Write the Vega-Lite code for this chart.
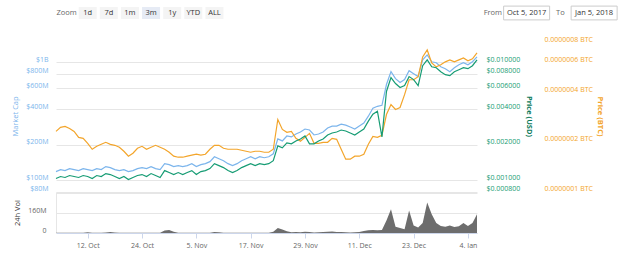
{
  "$schema": "https://vega.github.io/schema/vega-lite/v6.json",
  "background": "white",
  "padding": {"left": 11, "top": 0, "right": 0, "bottom": 0},
  "config": {
    "font": "Open Sans",
    "view": {"stroke": null},
    "axis": {"labelFont": "Open Sans", "titleFont": "Open Sans", "labelFontSize": 7, "titleFontSize": 7.5, "titleFontWeight": "normal", "domain": false, "ticks": false}
  },
  "datasets": {
    "zoom": [{"label": "Zoom"}, {"label": "1d"}, {"label": "7d"}, {"label": "1m"}, {"label": "3m"}, {"label": "1y"}, {"label": "YTD"}, {"label": "ALL"}],
    "range": [{"label": "From"}, {"label": "Oct 5, 2017"}, {"label": "To"}, {"label": "Jan 5, 2018"}],
    "d": [
      {"date": "2017/10/05", "mcap": 1.189e8, "usd": 0.001039, "btc": 2.308e-7, "vol": 2e6},
      {"date": "2017/10/06", "mcap": 1.236e8, "usd": 0.001080, "btc": 2.440e-7, "vol": 3e6},
      {"date": "2017/10/07", "mcap": 1.212e8, "usd": 0.001060, "btc": 2.474e-7, "vol": 2e6},
      {"date": "2017/10/08", "mcap": 1.260e8, "usd": 0.001101, "btc": 2.406e-7, "vol": 3e6},
      {"date": "2017/10/09", "mcap": 1.236e8, "usd": 0.001080, "btc": 2.308e-7, "vol": 2e6},
      {"date": "2017/10/10", "mcap": 1.212e8, "usd": 0.001060, "btc": 2.124e-7, "vol": 2e6},
      {"date": "2017/10/11", "mcap": 1.260e8, "usd": 0.001101, "btc": 2.095e-7, "vol": 3e6},
      {"date": "2017/10/12", "mcap": 1.236e8, "usd": 0.001080, "btc": 1.954e-7, "vol": 6e6},
      {"date": "2017/10/13", "mcap": 1.212e8, "usd": 0.001039, "btc": 1.798e-7, "vol": 3e6},
      {"date": "2017/10/14", "mcap": 1.260e8, "usd": 0.001101, "btc": 1.874e-7, "vol": 2e6},
      {"date": "2017/10/15", "mcap": 1.236e8, "usd": 0.001080, "btc": 1.927e-7, "vol": 3e6},
      {"date": "2017/10/16", "mcap": 1.310e8, "usd": 0.001144, "btc": 1.982e-7, "vol": 5e6},
      {"date": "2017/10/17", "mcap": 1.285e8, "usd": 0.001122, "btc": 1.927e-7, "vol": 8e6},
      {"date": "2017/10/18", "mcap": 1.236e8, "usd": 0.001080, "btc": 1.900e-7, "vol": 4e6},
      {"date": "2017/10/19", "mcap": 1.212e8, "usd": 0.001039, "btc": 1.848e-7, "vol": 3e6},
      {"date": "2017/10/20", "mcap": 1.236e8, "usd": 0.001080, "btc": 1.749e-7, "vol": 2e6},
      {"date": "2017/10/21", "mcap": 1.189e8, "usd": 0.001019, "btc": 1.632e-7, "vol": 3e6},
      {"date": "2017/10/22", "mcap": 1.212e8, "usd": 0.001060, "btc": 1.701e-7, "vol": 2e6},
      {"date": "2017/10/23", "mcap": 1.260e8, "usd": 0.001101, "btc": 1.823e-7, "vol": 3e6},
      {"date": "2017/10/24", "mcap": 1.285e8, "usd": 0.001122, "btc": 1.874e-7, "vol": 2e6},
      {"date": "2017/10/25", "mcap": 1.260e8, "usd": 0.001080, "btc": 1.798e-7, "vol": 2e6},
      {"date": "2017/10/26", "mcap": 1.310e8, "usd": 0.001144, "btc": 1.848e-7, "vol": 3e6},
      {"date": "2017/10/27", "mcap": 1.260e8, "usd": 0.001101, "btc": 1.900e-7, "vol": 3e6},
      {"date": "2017/10/28", "mcap": 1.236e8, "usd": 0.001060, "btc": 1.848e-7, "vol": 2e6},
      {"date": "2017/10/29", "mcap": 1.387e8, "usd": 0.001212, "btc": 1.798e-7, "vol": 2e7},
      {"date": "2017/10/30", "mcap": 1.361e8, "usd": 0.001167, "btc": 1.725e-7, "vol": 2.4e7},
      {"date": "2017/10/31", "mcap": 1.310e8, "usd": 0.001122, "btc": 1.632e-7, "vol": 1e7},
      {"date": "2017/11/01", "mcap": 1.335e8, "usd": 0.001167, "btc": 1.609e-7, "vol": 3e6},
      {"date": "2017/11/02", "mcap": 1.310e8, "usd": 0.001122, "btc": 1.609e-7, "vol": 3e6},
      {"date": "2017/11/03", "mcap": 1.335e8, "usd": 0.001167, "btc": 1.632e-7, "vol": 2e6},
      {"date": "2017/11/04", "mcap": 1.387e8, "usd": 0.001212, "btc": 1.655e-7, "vol": 3e6},
      {"date": "2017/11/05", "mcap": 1.310e8, "usd": 0.001122, "btc": 1.678e-7, "vol": 2e6},
      {"date": "2017/11/06", "mcap": 1.361e8, "usd": 0.001189, "btc": 1.655e-7, "vol": 2e6},
      {"date": "2017/11/07", "mcap": 1.387e8, "usd": 0.001212, "btc": 1.678e-7, "vol": 3e6},
      {"date": "2017/11/08", "mcap": 1.442e8, "usd": 0.001260, "btc": 1.798e-7, "vol": 3e6},
      {"date": "2017/11/09", "mcap": 1.587e8, "usd": 0.001387, "btc": 1.900e-7, "vol": 8e6},
      {"date": "2017/11/10", "mcap": 1.527e8, "usd": 0.001335, "btc": 1.900e-7, "vol": 6e6},
      {"date": "2017/11/11", "mcap": 1.470e8, "usd": 0.001285, "btc": 1.823e-7, "vol": 3e6},
      {"date": "2017/11/12", "mcap": 1.387e8, "usd": 0.001212, "btc": 1.798e-7, "vol": 2e6},
      {"date": "2017/11/13", "mcap": 1.335e8, "usd": 0.001167, "btc": 1.798e-7, "vol": 3e6},
      {"date": "2017/11/14", "mcap": 1.387e8, "usd": 0.001212, "btc": 1.798e-7, "vol": 2e6},
      {"date": "2017/11/15", "mcap": 1.470e8, "usd": 0.001285, "btc": 1.774e-7, "vol": 2e6},
      {"date": "2017/11/16", "mcap": 1.527e8, "usd": 0.001335, "btc": 1.749e-7, "vol": 3e6},
      {"date": "2017/11/17", "mcap": 1.587e8, "usd": 0.001387, "btc": 1.725e-7, "vol": 2e6},
      {"date": "2017/11/18", "mcap": 1.527e8, "usd": 0.001335, "btc": 1.749e-7, "vol": 3e6},
      {"date": "2017/11/19", "mcap": 1.587e8, "usd": 0.001387, "btc": 1.749e-7, "vol": 3e6},
      {"date": "2017/11/20", "mcap": 1.557e8, "usd": 0.001361, "btc": 1.725e-7, "vol": 2e6},
      {"date": "2017/11/21", "mcap": 1.587e8, "usd": 0.001387, "btc": 1.725e-7, "vol": 3e6},
      {"date": "2017/11/22", "mcap": 1.682e8, "usd": 0.001470, "btc": 1.798e-7, "vol": 1e7},
      {"date": "2017/11/23", "mcap": 2.245e8, "usd": 0.001962, "btc": 2.726e-7, "vol": 4e7},
      {"date": "2017/11/24", "mcap": 2.160e8, "usd": 0.001888, "btc": 2.373e-7, "vol": 2.8e7},
      {"date": "2017/11/25", "mcap": 2.378e8, "usd": 0.002079, "btc": 2.277e-7, "vol": 1.4e7},
      {"date": "2017/11/26", "mcap": 2.333e8, "usd": 0.002039, "btc": 2.308e-7, "vol": 6e6},
      {"date": "2017/11/27", "mcap": 2.472e8, "usd": 0.002160, "btc": 2.095e-7, "vol": 8e6},
      {"date": "2017/11/28", "mcap": 2.569e8, "usd": 0.002245, "btc": 2.009e-7, "vol": 6e6},
      {"date": "2017/11/29", "mcap": 2.722e8, "usd": 0.002378, "btc": 2.124e-7, "vol": 1e7},
      {"date": "2017/11/30", "mcap": 2.670e8, "usd": 0.002039, "btc": 2.245e-7, "vol": 8e6},
      {"date": "2017/12/01", "mcap": 2.425e8, "usd": 0.002039, "btc": 1.954e-7, "vol": 4e6},
      {"date": "2017/12/02", "mcap": 2.472e8, "usd": 0.002160, "btc": 1.954e-7, "vol": 6e6},
      {"date": "2017/12/03", "mcap": 2.569e8, "usd": 0.002245, "btc": 1.982e-7, "vol": 8e6},
      {"date": "2017/12/04", "mcap": 2.775e8, "usd": 0.002425, "btc": 1.982e-7, "vol": 1e7},
      {"date": "2017/12/05", "mcap": 2.883e8, "usd": 0.002520, "btc": 2.095e-7, "vol": 1.2e7},
      {"date": "2017/12/06", "mcap": 2.883e8, "usd": 0.002569, "btc": 2.066e-7, "vol": 8e6},
      {"date": "2017/12/07", "mcap": 2.997e8, "usd": 0.002670, "btc": 1.798e-7, "vol": 8e6},
      {"date": "2017/12/08", "mcap": 2.939e8, "usd": 0.002619, "btc": 1.565e-7, "vol": 6e6},
      {"date": "2017/12/09", "mcap": 2.828e8, "usd": 0.002520, "btc": 1.565e-7, "vol": 4e6},
      {"date": "2017/12/10", "mcap": 2.722e8, "usd": 0.002425, "btc": 1.632e-7, "vol": 6e6},
      {"date": "2017/12/11", "mcap": 2.883e8, "usd": 0.002569, "btc": 1.632e-7, "vol": 8e6},
      {"date": "2017/12/12", "mcap": 3.055e8, "usd": 0.002722, "btc": 1.678e-7, "vol": 1.6e7},
      {"date": "2017/12/13", "mcap": 3.495e8, "usd": 0.003174, "btc": 1.927e-7, "vol": 2.2e7},
      {"date": "2017/12/14", "mcap": 4.077e8, "usd": 0.003633, "btc": 2.154e-7, "vol": 2.4e7},
      {"date": "2017/12/15", "mcap": 4.237e8, "usd": 0.003848, "btc": 2.124e-7, "vol": 2.2e7},
      {"date": "2017/12/16", "mcap": 4.320e8, "usd": 0.002333, "btc": 2.184e-7, "vol": 2.4e7},
      {"date": "2017/12/17", "mcap": 6.473e8, "usd": 0.005656, "btc": 2.922e-7, "vol": 1e8},
      {"date": "2017/12/18", "mcap": 8.313e8, "usd": 0.007407, "btc": 3.357e-7, "vol": 1.9e8},
      {"date": "2017/12/19", "mcap": 7.266e8, "usd": 0.006599, "btc": 3.132e-7, "vol": 5e7},
      {"date": "2017/12/20", "mcap": 6.727e8, "usd": 0.006109, "btc": 3.220e-7, "vol": 4e7},
      {"date": "2017/12/21", "mcap": 7.127e8, "usd": 0.006349, "btc": 3.856e-7, "vol": 3e7},
      {"date": "2017/12/22", "mcap": 8.475e8, "usd": 0.007550, "btc": 4.748e-7, "vol": 1.8e8},
      {"date": "2017/12/23", "mcap": 7.999e8, "usd": 0.007127, "btc": 4.748e-7, "vol": 6e7},
      {"date": "2017/12/24", "mcap": 7.550e8, "usd": 0.006349, "btc": 4.950e-7, "vol": 4.4e7},
      {"date": "2017/12/25", "mcap": 1.047e9, "usd": 0.009331, "btc": 6.533e-7, "vol": 8e7},
      {"date": "2017/12/26", "mcap": 1.153e9, "usd": 0.010473, "btc": 7.199e-7, "vol": 2.45e8},
      {"date": "2017/12/27", "mcap": 1.008e9, "usd": 0.009154, "btc": 6.012e-7, "vol": 1.5e8},
      {"date": "2017/12/28", "mcap": 9.885e8, "usd": 0.008979, "btc": 5.686e-7, "vol": 8e7},
      {"date": "2017/12/29", "mcap": 9.154e8, "usd": 0.008313, "btc": 5.846e-7, "vol": 5.6e7},
      {"date": "2017/12/30", "mcap": 8.808e8, "usd": 0.007846, "btc": 6.095e-7, "vol": 5e7},
      {"date": "2017/12/31", "mcap": 8.313e8, "usd": 0.007697, "btc": 6.267e-7, "vol": 6e7},
      {"date": "2018/01/01", "mcap": 8.979e8, "usd": 0.008313, "btc": 6.095e-7, "vol": 4.8e7},
      {"date": "2018/01/02", "mcap": 9.513e8, "usd": 0.008640, "btc": 6.267e-7, "vol": 5.5e7},
      {"date": "2018/01/03", "mcap": 9.885e8, "usd": 0.008979, "btc": 6.443e-7, "vol": 8e7},
      {"date": "2018/01/04", "mcap": 9.513e8, "usd": 0.008808, "btc": 6.180e-7, "vol": 5.6e7},
      {"date": "2018/01/05", "mcap": 1.008e9, "usd": 0.009331, "btc": 6.355e-7, "vol": 8e7},
      {"date": "2018/01/06", "mcap": 1.110e9, "usd": 0.010473, "btc": 6.905e-7, "vol": 1.5e8}
    ]
  },
  "spacing": 9,
  "vconcat": [
    {
      "spacing": 244,
      "hconcat": [
        {
          "data": {"name": "zoom"},
          "width": 169,
          "height": 26,
          "encoding": {
            "x": {"field": "label", "type": "nominal", "axis": null, "scale": {"type": "point", "domain": ["Zoom", "1d", "7d", "1m", "3m", "1y", "YTD", "ALL"]}}
          },
          "layer": [
            {
              "mark": {"type": "point", "shape": "M-1,-0.667H1V0.667H-1Z", "size": 324, "filled": true},
              "encoding": {
                "color": {"condition": {"test": "datum.label == '3m'", "value": "#e6ebf5"}, "value": "#f4f4f4"},
                "opacity": {"condition": {"test": "datum.label == 'Zoom'", "value": 0}, "value": 1}
              }
            },
            {
              "mark": {"type": "text", "fontSize": 7.5},
              "encoding": {
                "text": {"field": "label"},
                "color": {"condition": {"test": "datum.label == 'Zoom'", "value": "#666666"}, "value": "#333333"},
                "fontWeight": {"condition": {"test": "datum.label == '3m'", "value": "bold"}, "value": "normal"}
              }
            }
          ]
        },
        {
          "data": {"name": "range"},
          "width": 135,
          "height": 26,
          "encoding": {
            "x": {"field": "label", "type": "nominal", "axis": null, "scale": {"type": "point", "domain": ["From", "Oct 5, 2017", "To", "Jan 5, 2018"]}}
          },
          "layer": [
            {
              "mark": {"type": "point", "shape": "M-1,-0.3H1V0.3H-1Z", "size": 2116, "filled": false, "stroke": "#cccccc", "strokeWidth": 1},
              "encoding": {
                "opacity": {"condition": {"test": "datum.label == 'From' || datum.label == 'To'", "value": 0}, "value": 1}
              }
            },
            {
              "mark": {"type": "text", "fontSize": 7.5},
              "encoding": {
                "text": {"field": "label"},
                "color": {"condition": {"test": "datum.label == 'From' || datum.label == 'To'", "value": "#666666"}, "value": "#333333"}
              }
            }
          ]
        }
      ]
    },
    {
      "spacing": 0,
      "vconcat": [
        {
          "data": {"name": "d"},
          "width": 421,
          "height": 152,
          "encoding": {
            "x": {"field": "date", "type": "temporal", "axis": null, "scale": {"domain": [{"year": 2017, "month": "oct", "date": 5}, {"year": 2018, "month": "jan", "date": 6}]}}
          },
          "layer": [
            {
              "mark": {"type": "line", "color": "#7cb5ec", "strokeWidth": 1.2},
              "encoding": {
                "y": {
                  "field": "mcap", "type": "quantitative",
                  "scale": {"type": "log", "domain": [7.99e7, 1.54e9], "nice": false},
                  "axis": {"orient": "left", "values": [8e7, 1e8, 2e8, 4e8, 6e8, 8e8, 1e9], "labelExpr": "datum.value >= 1e9 ? '$1B' : '$' + format(datum.value / 1e6, 'd') + 'M'", "title": "Market Cap", "titleColor": "#7cb5ec", "labelColor": "#7cb5ec", "grid": true, "gridColor": "#e6e6e6", "labelPadding": 8, "labelOffset": -3, "titlePadding": 6}
                }
              }
            },
            {
              "mark": {"type": "line", "color": "#f3a52b", "strokeWidth": 1.2},
              "encoding": {
                "y": {
                  "field": "btc", "type": "quantitative",
                  "scale": {"type": "log", "domain": [9.9e-8, 8.27e-7], "nice": false},
                  "axis": {"orient": "right", "offset": 58, "values": [1e-7, 2e-7, 4e-7, 6e-7, 8e-7], "labelExpr": "format(datum.value, '.7f') + ' BTC'", "title": "Price (BTC)", "titleColor": "#f3a52b", "titleFontWeight": "bold", "labelColor": "#f3a52b", "grid": false, "labelPadding": 9, "labelOffset": -3, "titlePadding": 3}
                }
              }
            },
            {
              "mark": {"type": "line", "color": "#169c74", "strokeWidth": 1.2},
              "encoding": {
                "y": {
                  "field": "usd", "type": "quantitative",
                  "scale": {"type": "log", "domain": [7.99e-4, 1.54e-2], "nice": false},
                  "axis": {"orient": "right", "values": [0.0008, 0.001, 0.002, 0.004, 0.006, 0.008, 0.01], "format": "$.6f", "title": "Price (USD)", "titleColor": "#0b7a5a", "titleFontWeight": "bold", "labelColor": "#169c74", "grid": false, "labelPadding": 9, "labelOffset": -3, "titlePadding": 5}
                }
              }
            }
          ],
          "resolve": {"scale": {"y": "independent"}}
        },
        {
          "data": {"name": "d"},
          "width": 421,
          "height": 41,
          "mark": {"type": "area", "color": "#6d6d6d"},
          "encoding": {
            "x": {
              "field": "date", "type": "temporal",
              "scale": {"domain": [{"year": 2017, "month": "oct", "date": 5}, {"year": 2018, "month": "jan", "date": 6}]},
              "axis": {"values": [{"year": 2017, "month": "oct", "date": 12}, {"year": 2017, "month": "oct", "date": 24}, {"year": 2017, "month": "nov", "date": 5}, {"year": 2017, "month": "nov", "date": 17}, {"year": 2017, "month": "nov", "date": 29}, {"year": 2017, "month": "dec", "date": 11}, {"year": 2017, "month": "dec", "date": 23}, {"year": 2018, "month": "jan", "date": 4}], "format": "%-d. %b", "title": null, "labelColor": "#666666", "domain": true, "domainColor": "#ccd6eb", "ticks": true, "tickColor": "#ccd6eb", "tickSize": 5, "labelPadding": 3, "grid": false}
            },
            "y": {
              "field": "vol", "type": "quantitative",
              "scale": {"domain": [0, 3.28e8], "nice": false},
              "axis": {"values": [0, 1.6e8, 3.2e8], "labelExpr": "datum.value > 2e8 ? '' : format(datum.value, '~s')", "title": "24h Vol", "titleColor": "#333333", "labelColor": "#666666", "grid": true, "gridColor": "#e6e6e6", "domain": true, "domainColor": "#e6e6e6", "labelOffset": -3, "labelPadding": 10, "titlePadding": 6}
            }
          }
        }
      ]
    }
  ]
}
